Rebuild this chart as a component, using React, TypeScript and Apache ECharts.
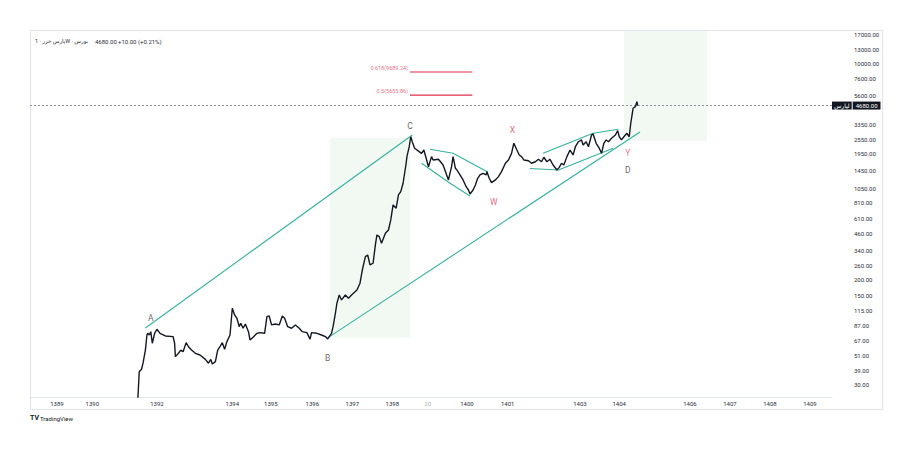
import React, { useEffect, useRef } from "react";
import * as echarts from "echarts";

// ---- price series (weekly bar index, price) ----
const weeks = [140,142,145,147,150,152,153,155,157,159,162,165,169,176,186,188,189,193,196,199,203,206,210,215,221,228,232,235,237,241,244,247,250,253,256,260,263,266,269,272,274,277,280,284,286,290,295,299,305,308,311,314,319,324,328,331,335,340,345,350,354,360,364,366,373,379,384,387,392,394,397,399,402,405,410,414,418,425,429,432,436,439,442,446,449,451,454,457,462,466,469,472,476,479,482,485,489,490,493,495,497,500,506,509,512,515,518,522,524,531,537,544,548,550,553,555,559,563,567,570,572,576,579,582,585,589,593,594,597,600,605,609,613,618,622,626,629,633,636,639,642,648,652,657,661,665,668,672,676,680,685,688,691,694,698,702,706,709,713,717,719,723,726,730,732,736,740,743,746,749,752,756,761,764,766,769,772,776,779,781,783,784,787,789,790];
const prices = [22,38.1,39.8,44.6,56.3,73.9,76.2,73.9,78.5,63.7,76.2,82,76.2,72.6,71.8,63.7,50,53.1,56.3,54.7,64.4,59.8,56.3,53.1,51.5,47.6,44.4,47.6,43.7,45.7,56.3,59.8,64.4,57.1,65.6,73.9,119.9,106.2,100,85.9,91.4,83.5,90.2,78.5,67.6,71,76.2,77.1,76.2,103,104.3,88.7,90.2,88.7,104.3,100,85.9,83.5,88.7,83.5,78.5,77.1,68.4,77.1,76.2,73.9,71.8,68.9,76.2,85.9,109.4,131.2,152.4,139.3,152.4,143.5,152.4,166.7,188.4,239.3,304.8,314,262.4,270.4,376.7,450.8,437.5,388.2,464.5,493.2,591.6,776.2,731.1,929,986,1148,1648,1858,2223,2661,2432,2163,2032,1972,2094,1803,1549,1858,1750,1770,1596,1219,1549,1858,1507,1459,1334,1219,1079,1016,946,1016,1112,1256,1334,1374,1334,1416,1256,1161,1219,1294,1416,1648,1750,1972,2365,2094,1914,1858,1750,1726,1648,1694,1770,1694,1837,1694,1770,1596,1459,1531,1648,1596,1858,2094,1914,2223,2432,2512,2291,2432,2223,2748,2799,2365,2163,1972,2365,2512,2432,2588,2748,2972,2661,2512,2661,2831,2661,3396,4064,4456,4581,5010,4680];
const lastPrice = 4680;

// ---- axes ----
const xMinWeek = 0;
const xMaxWeek = 1042.6;
const yMinPrice = 24.1;
const yMaxPrice = 18000;
const priceTicks = [17000,13000,10000,7600,5600,3350,2550,1950,1450,1050,810,610,460,340,260,200,150,115,87,67,51,39,30];
const timeTickWeeks = [35,81,165,263,313,367,419,471,517,568,621,715,766,858,910,962,1014];
const timeTickLabels = ["1389","1390","1392","1394","1395","1396","1397","1398","20","1400","1401","1403","1404","1406","1407","1408","1409"];

// ---- drawings ----
const upperChannelWeeks = [150, 497];
const upperChannelPrices = [83.9, 2748];
const lowerChannelWeeks = [387, 793];
const lowerChannelPrices = [70.2, 2900];
const wedge1UpperWeeks = [520, 550, 595];
const wedge1UpperPrices = [2120, 1972, 1407];
const wedge1LowerWeeks = [509, 546, 572];
const wedge1LowerPrices = [1648, 1148, 912];
const wedge2UpperWeeks = [667, 732, 765];
const wedge2UpperPrices = [1972, 2833, 3045];
const wedge2LowerWeeks = [650, 687, 758];
const wedge2LowerPrices = [1500, 1459, 2160];

const zoneStartWeeks = [390, 772];
const zoneEndWeeks = [494, 880];
const zoneLowPrices = [70.2, 2466];
const zoneHighPrices = [2600, 18000];

const waveLabels = ["A", "B", "C", "D", "W", "X", "Y"];
const waveLabelWeeks = [157, 387, 494, 777, 603, 627, 777];
const waveLabelPrices = [100, 48.8, 3234, 1459, 818, 3007, 1984];
const waveLabelColors = ["#3d3d3d", "#3d3d3d", "#3d3d3d", "#3d3d3d", "#e2406c", "#e2364f", "#e2558a"];

const fibLabels = ["0.618(9689.24)", "0.5(5655.86)"];
const fibPrices = [8580, 5655.86];
const fibStartWeek = 494;
const fibEndWeek = 575;

const titleText = "پارس خزر · 1W · بورس";
const tickerText = "لپارس";
const closeText = "4680.00";
const changeText = "+10.00 (+0.21%)";

const L = (p: number) => Math.log10(p);
const FONT = "Roboto, 'DejaVu Sans', sans-serif";

function nearestIndex(arr: number[], v: number) {
  let best = 0;
  arr.forEach((a, i) => {
    if (Math.abs(a - v) < Math.abs(arr[best] - v)) best = i;
  });
  return best;
}

const lineSeries = (ws: number[], ps: number[], color: string, width: number, z: number, extra: any = {}) => ({
  type: "line",
  data: ws.map((w, i) => [w, L(ps[i])]),
  symbol: "none",
  silent: true,
  z,
  lineStyle: { color, width },
  ...extra,
});

export default function App() {
  const ref = useRef<HTMLDivElement>(null);
  useEffect(() => {
    if (!ref.current) return;
    const chart = echarts.init(ref.current, null, { renderer: "svg" });
    const teal = "#36b19f";
    const logPriceTicks = priceTicks.map(L);
    const option: any = {
      animation: false,
      textStyle: { fontFamily: FONT },
      grid: { left: 30, top: 31, width: 802, height: 366 },
      xAxis: {
        type: "value",
        min: xMinWeek,
        max: xMaxWeek,
        axisLine: { show: true, lineStyle: { color: "#e0e3eb", width: 1 } },
        axisTick: { show: false },
        splitLine: { show: false },
        axisLabel: {
          customValues: timeTickWeeks,
          fontSize: 6,
          color: "#2a2e39",
          margin: 3,
          fontFamily: FONT,
          formatter: (v: number) => {
            const t = timeTickLabels[nearestIndex(timeTickWeeks, v)];
            return t === "20" ? "{f|" + t + "}" : t;
          },
          rich: { f: { color: "#b0b3bb", fontSize: 6 } },
        },
      },
      yAxis: {
        type: "value",
        position: "right",
        min: L(yMinPrice),
        max: L(yMaxPrice),
        axisLine: { show: false },
        axisTick: { show: false },
        splitLine: { show: false },
        axisLabel: {
          customValues: logPriceTicks,
          fontSize: 6,
          color: "#2a2e39",
          margin: 22,
          align: "left",
          fontFamily: FONT,
          formatter: (v: number) => priceTicks[nearestIndex(logPriceTicks, v)].toFixed(2),
        },
      },
      series: [
        lineSeries(upperChannelWeeks, upperChannelPrices, teal, 1.1, 2, {
          markArea: {
            silent: true,
            itemStyle: { color: "rgba(76,175,80,0.07)" },
            data: zoneStartWeeks.map((w, i) => [
              { coord: [w, L(zoneLowPrices[i])] },
              { coord: [zoneEndWeeks[i], L(zoneHighPrices[i])] },
            ]),
          },
        }),
        lineSeries(lowerChannelWeeks, lowerChannelPrices, teal, 1.1, 2),
        lineSeries(wedge1UpperWeeks, wedge1UpperPrices, teal, 1.1, 2),
        lineSeries(wedge1LowerWeeks, wedge1LowerPrices, teal, 1.1, 2),
        lineSeries(wedge2UpperWeeks, wedge2UpperPrices, teal, 1.1, 2),
        lineSeries(wedge2LowerWeeks, wedge2LowerPrices, teal, 1.1, 2),
        ...fibPrices.map((p) =>
          lineSeries([fibStartWeek, fibEndWeek], [p, p], "#e0314b", 1.2, 2)
        ),
        lineSeries(weeks, prices, "#131722", 1.4, 5, {
          markLine: {
            silent: true,
            symbol: ["none", "none"],
            lineStyle: { color: "#8f929b", type: [2, 2], width: 1 },
            label: {
              show: true,
              position: "end",
              distance: 0,
              formatter: "{t|" + tickerText + "}{g|}{v|" + lastPrice.toFixed(2) + "}",
              rich: {
                t: { backgroundColor: "#131722", color: "#fff", fontSize: 6, padding: [1, 2, 1, 2], fontFamily: FONT },
                g: { width: 1 },
                v: { backgroundColor: "#131722", color: "#fff", fontSize: 6, padding: [1, 3, 1, 3], fontFamily: FONT },
              },
            },
            data: [{ yAxis: L(lastPrice) }],
          },
        }),
        {
          type: "scatter",
          silent: true,
          symbolSize: 0,
          z: 6,
          data: waveLabels.map((n, i) => ({
            name: n,
            value: [waveLabelWeeks[i], L(waveLabelPrices[i])],
            label: { color: waveLabelColors[i] },
          })),
          label: { show: true, position: "inside", formatter: "{b}", fontSize: 8.5, fontFamily: FONT },
        },
        {
          type: "scatter",
          silent: true,
          symbolSize: 0,
          z: 6,
          data: fibLabels.map((n, i) => ({ name: n, value: [fibStartWeek, L(fibPrices[i])] })),
          label: {
            show: true,
            position: "left",
            distance: 2,
            offset: [0, -4],
            formatter: "{b}",
            fontSize: 5.5,
            color: "#e0456a",
            fontFamily: FONT,
          },
        },
      ],
      graphic: [
        {
          type: "rect",
          silent: true,
          shape: { x: 30.5, y: 30.5, width: 852, height: 379 },
          style: { fill: "none", stroke: "#e0e3eb", lineWidth: 1 },
        },
        { type: "text", x: 35, y: 38, style: { text: titleText, fontSize: 5.5, fill: "#2a2e39", fontFamily: FONT } },
        { type: "text", x: 95, y: 38, style: { text: closeText, fontSize: 6, fill: "#2a2e39", fontFamily: FONT } },
        { type: "text", x: 118, y: 38, style: { text: changeText, fontSize: 6, fill: "#2a2e39", fontFamily: FONT } },
        { type: "text", x: 30, y: 414, style: { text: "TV", fontSize: 7, fontWeight: "bold", fill: "#131722", fontFamily: FONT } },
        { type: "text", x: 40, y: 415, style: { text: "TradingView", fontSize: 6, fill: "#131722", fontFamily: FONT } },
      ],
    };
    chart.setOption(option);
    return () => chart.dispose();
  }, []);
  return (
    <div
      ref={ref}
      style={{ position: "fixed", left: 0, top: 0, width: 908, height: 454, background: "#fff" }}
    />
  );
}
